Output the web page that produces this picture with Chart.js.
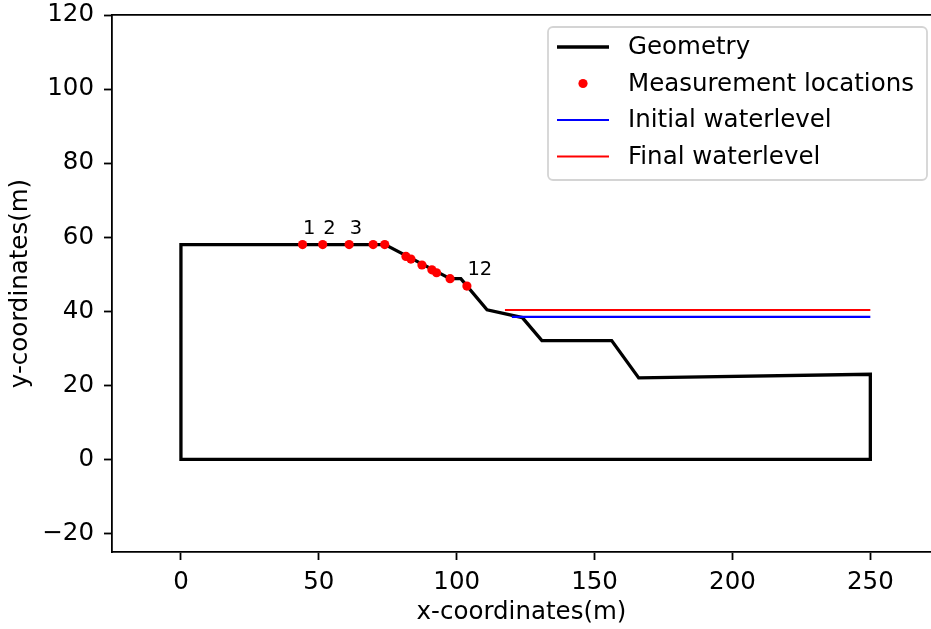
<!DOCTYPE html>
<html>
<head>
<meta charset="utf-8">
<script src="https://cdn.jsdelivr.net/npm/chart.js@4.4.1/dist/chart.umd.min.js"></script>
<style>
  html, body { margin: 0; padding: 0; background: #fff; overflow: hidden; }
  #wrap { width: 931px; height: 629px; position: relative; overflow: hidden; }
  #inner { position: absolute; left: 0; top: -10px; width: 951px; height: 639px; }
</style>
</head>
<body>
<div id="wrap"><div id="inner"><canvas id="c"></canvas></div></div>
<script>
// Slope cross-section outline (closed polygon)
const geometryX = [0, 0, 74, 97.6, 101.5, 111, 123.8, 130.9, 156.2, 166, 250, 250, 0];
const geometryY = [0, 58, 58, 48.8, 48.8, 40.4, 38.3, 32.1, 32.1, 22, 23, 0, 0];

// Measurement points along the crest and slope
const measureX = [44.1, 51.4, 61.0, 69.7, 73.9, 81.6, 83.4, 87.4, 91.0, 92.7, 97.6, 103.7];
const measureY = [58, 58, 58, 58, 58, 54.8, 54.1, 52.5, 51.2, 50.4, 48.8, 46.8];
const measureLabels = ['1', '2', '3', '', '', '', '', '', '', '', '', '12'];

// Water levels
const initialWaterX = [120, 250];
const initialWaterY = [38.5, 38.5];
const finalWaterX = [117.5, 250];
const finalWaterY = [40.35, 40.35];

// Axis ticks
const xTicks = [0, 50, 100, 150, 200, 250];
const yTicks = [-20, 0, 20, 40, 60, 80, 100, 120];

const FONT = 'DejaVu Sans';
const BASE = 24.5;

const toPoints = (xs, ys) => xs.map((x, i) => ({ x: x, y: ys[i] }));

// Numbers next to selected measurement points
const pointLabelPlugin = {
  id: 'pointLabels',
  afterDatasetsDraw(chart) {
    const { ctx, scales } = chart;
    ctx.save();
    ctx.font = `19.5px "${FONT}"`;
    ctx.fillStyle = '#000';
    ctx.textAlign = 'left';
    ctx.textBaseline = 'alphabetic';
    measureLabels.forEach((t, i) => {
      if (!t) return;
      const px = scales.x.getPixelForValue(measureX[i]);
      const py = scales.y.getPixelForValue(measureY[i]);
      ctx.fillText(t, px + 0.5, py - 11);
    });
    ctx.restore();
  }
};

// Framed legend in the upper right of the plot area
const boxLegendPlugin = {
  id: 'boxLegend',
  afterDraw(chart) {
    const { ctx, chartArea } = chart;
    const ds = chart.data.datasets;
    const x0 = 548, y0 = chartArea.top + 12, w = 379, h = 153, r = 5;
    ctx.save();
    ctx.fillStyle = 'rgba(255,255,255,0.85)';
    ctx.strokeStyle = '#d4d4d4';
    ctx.lineWidth = 1.8;
    ctx.beginPath();
    ctx.roundRect(x0, y0, w, h, r);
    ctx.fill();
    ctx.stroke();
    ctx.font = `${BASE}px "${FONT}"`;
    ctx.textAlign = 'left';
    ctx.textBaseline = 'middle';
    const rowOffsets = [20, 56.5, 93, 129.5];
    ds.forEach((d, i) => {
      const cy = y0 + rowOffsets[i];
      if (d.showLine === false) {
        ctx.fillStyle = d.pointBackgroundColor;
        ctx.beginPath();
        ctx.arc(583, cy, d.pointRadius, 0, Math.PI * 2);
        ctx.fill();
      } else {
        ctx.strokeStyle = d.borderColor;
        ctx.lineWidth = d.borderWidth;
        ctx.beginPath();
        ctx.moveTo(557, cy);
        ctx.lineTo(609, cy);
        ctx.stroke();
      }
      ctx.fillStyle = '#000';
      ctx.fillText(d.label, 628, cy + 1);
    });
    ctx.restore();
  }
};

const tickFont = { family: FONT, size: BASE };

new Chart(document.getElementById('c'), {
  type: 'scatter',
  data: {
    datasets: [
      {
        label: 'Geometry',
        data: toPoints(geometryX, geometryY),
        showLine: true,
        borderColor: '#000',
        borderWidth: 3.3,
        borderCapStyle: 'square',
        borderJoinStyle: 'miter',
        pointRadius: 0,
        tension: 0,
        order: 3
      },
      {
        label: 'Measurement locations',
        data: toPoints(measureX, measureY),
        showLine: false,
        pointRadius: 4.6,
        pointBackgroundColor: '#ff0000',
        pointBorderWidth: 0,
        borderColor: '#ff0000',
        order: 1
      },
      {
        label: 'Initial waterlevel',
        data: toPoints(initialWaterX, initialWaterY),
        showLine: true,
        borderColor: '#0000ff',
        borderWidth: 2.2,
        pointRadius: 0,
        order: 2
      },
      {
        label: 'Final waterlevel',
        data: toPoints(finalWaterX, finalWaterY),
        showLine: true,
        borderColor: '#ff0000',
        borderWidth: 2.2,
        pointRadius: 0,
        order: 2
      }
    ]
  },
  options: {
    responsive: true,
    maintainAspectRatio: false,
    animation: false,
    events: [],
    layout: { padding: 0 },
    plugins: {
      legend: { display: false },
      tooltip: { enabled: false }
    },
    scales: {
      x: {
        type: 'linear',
        position: 'bottom',
        min: -25,
        max: 272,
        afterBuildTicks: s => { s.ticks = xTicks.map(v => ({ value: v })); },
        afterFit: s => { s.height = 77; },
        grid: { drawOnChartArea: false, drawTicks: true, tickLength: 8, tickWidth: 1.8, tickColor: '#000' },
        border: { display: true, color: '#000', width: 1.8 },
        ticks: { font: tickFont, color: '#000', padding: 8, maxRotation: 0, autoSkip: false },
        title: { display: true, text: 'x-coordinates(m)', font: tickFont, color: '#000', padding: { top: 0, bottom: 2 } }
      },
      xTop: {
        type: 'linear',
        position: 'top',
        min: -25,
        max: 272,
        afterFit: s => { s.height = 25; },
        grid: { display: false },
        border: { display: true, color: '#000', width: 1.8 },
        ticks: { display: false }
      },
      yRight: {
        type: 'linear',
        position: 'right',
        min: -25,
        max: 120,
        afterFit: s => { s.width = 20; },
        grid: { display: false },
        border: { display: false },
        ticks: { display: false }
      },
      y: {
        type: 'linear',
        position: 'left',
        min: -25,
        max: 120,
        afterBuildTicks: s => { s.ticks = yTicks.map(v => ({ value: v })); },
        afterFit: s => { s.width = 112; },
        grid: { drawOnChartArea: false, drawTicks: true, tickLength: 8, tickWidth: 1.8, tickColor: '#000' },
        border: { display: true, color: '#000', width: 1.8 },
        ticks: {
          font: tickFont, color: '#000', padding: 10, autoSkip: false,
          callback: v => (v < 0 ? '\u2212' + Math.abs(v) : String(v))
        },
        title: { display: true, text: 'y-coordinates(m)', font: tickFont, color: '#000', padding: { top: 6, bottom: 0 } }
      }
    }
  },
  plugins: [pointLabelPlugin, boxLegendPlugin]
});
</script>
</body>
</html>
